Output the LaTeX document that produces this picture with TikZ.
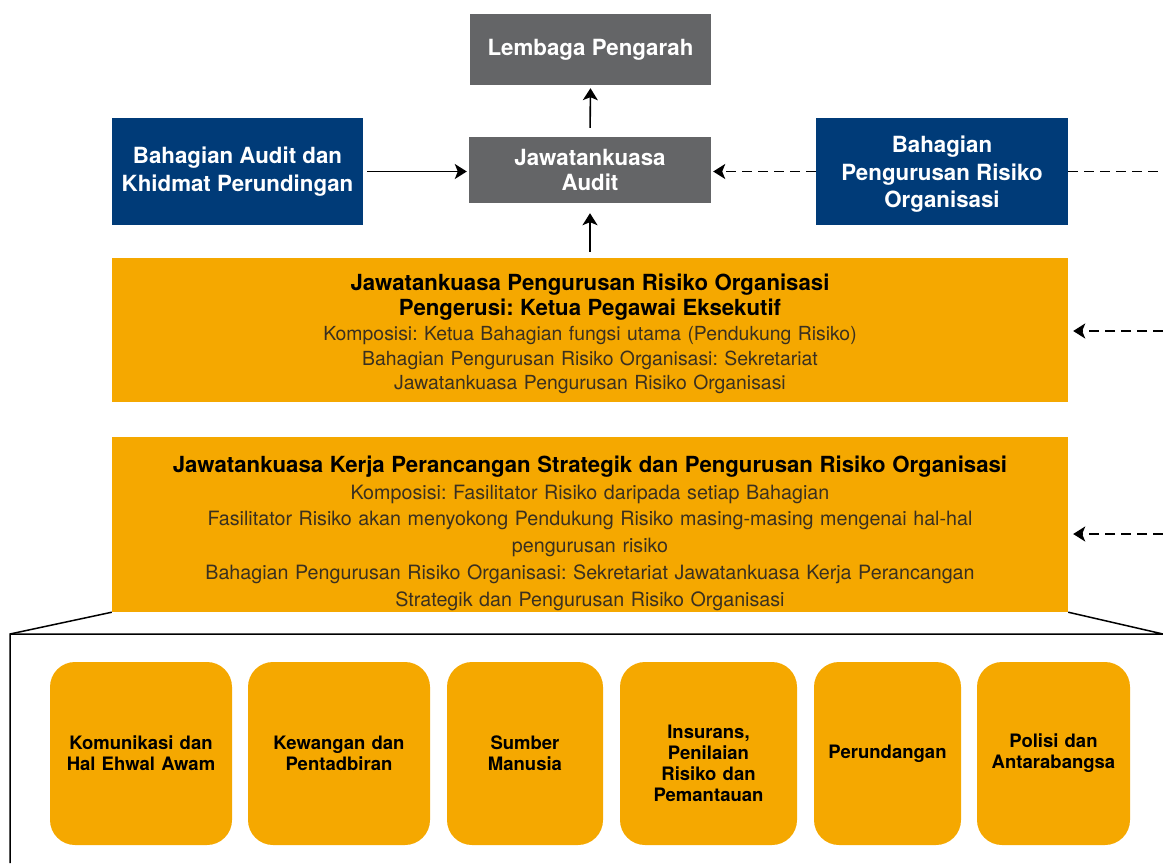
\documentclass[tikz,border=0pt]{standalone}
\usepackage{fontspec}
\setmainfont{TeX Gyre Heros}
\usetikzlibrary{arrows.meta}
\definecolor{kelabu}{HTML}{646567}
\definecolor{biru}{HTML}{003B78}
\definecolor{jingga}{HTML}{F5A800}
\definecolor{teksredup}{HTML}{3A3020}
\frenchspacing
\tikzset{
	kotakkelabu/.style={fill=kelabu,text=white,font=\bfseries\fontsize{22.3}{25}\selectfont,align=center,inner sep=0pt},
	kotakbiru/.style={fill=biru,text=white,font=\bfseries\fontsize{22.3}{27.5}\selectfont,align=center,inner sep=0pt},
	kotakjingga/.style={fill=jingga,text=black,align=center,inner sep=0pt,text width=950},
	kotakbawah/.style={fill=jingga,text=black,font=\bfseries\fontsize{18.5}{21}\selectfont,align=center,inner sep=0pt,rounded corners=25,minimum height=183},
	panah/.style={line width=1.6,-{Stealth[length=12,width=15,inset=3]}},
	putus/.style={line width=1.6,dash pattern=on 10 off 6}
}
\newcommand{\tajuk}[1]{{\bfseries\fontsize{22.2}{25}\selectfont #1}}
\newcommand{\redup}[1]{{\color{teksredup}#1}}

\begin{document}
\begin{tikzpicture}[x=1pt,y=-1pt]
	\useasboundingbox (0,0) rectangle (1163,863);
	%top
	\node[kotakkelabu,minimum width=241,minimum height=71] (lp) at (590.5,49.5) {Lembaga Pengarah};
	\node[kotakkelabu,minimum width=242,minimum height=66] (ja) at (590,170) {Jawatankuasa\\Audit};
	\node[kotakbiru,minimum width=251,minimum height=107] (bakp) at (237.5,171.5) {Bahagian Audit dan\\Khidmat Perundingan};
	\node[kotakbiru,minimum width=252,minimum height=107] (bpro) at (942,171.5) {\rule{0pt}{22pt}Bahagian\\Pengurusan Risiko\\Organisasi};
	
	%jawatankuasa
	\node[kotakjingga,minimum width=956,minimum height=144,font=\fontsize{19.4}{24.8}\selectfont] (jpro) at (590,330) {\tajuk{\rule{0pt}{25pt}Jawatankuasa Pengurusan Risiko Organisasi\\Pengerusi: Ketua Pegawai Eksekutif}\\
		\redup{Komposisi: Ketua Bahagian fungsi utama (Pendukung Risiko)\\Bahagian Pengurusan Risiko Organisasi: Sekretariat\\Jawatankuasa Pengurusan Risiko Organisasi}};
	\node[kotakjingga,minimum width=956,minimum height=175,font=\fontsize{19.7}{26.8}\selectfont] (jkps) at (590,524.5) {\tajuk{\rule{0pt}{34pt}Jawatankuasa Kerja Perancangan Strategik dan Pengurusan Risiko Organisasi}\\
		\redup{Komposisi: Fasilitator Risiko daripada setiap Bahagian\\Fasilitator Risiko akan menyokong Pendukung Risiko masing-masing mengenai hal-hal\\pengurusan risiko\\Bahagian Pengurusan Risiko Organisasi: Sekretariat Jawatankuasa Kerja Perancangan\\Strategik dan Pengurusan Risiko Organisasi}};
	
	%bahagian
	\foreach \kiri/\kanan/\nama/\teks in {50/232/kom/{Komunikasi dan\\Hal Ehwal Awam},248/430/kew/{Kewangan dan\\Pentadbiran},447/603/sm/{Sumber\\Manusia},620/797/ins/{\rule{0pt}{34pt}Insurans,\\Penilaian\\Risiko dan\\Pemantauan},814/961/per/{Perundangan},977/1130/pol/{Polisi dan\\Antarabangsa}}{
		\node[kotakbawah,minimum width={\kanan-\kiri},text width={\kanan-\kiri-6}] (\nama) at ({(\kiri+\kanan)/2},753.5) {\teks};
	}
	
	%bingkai
	\coordinate (bk1) at (10,634);
	\coordinate (bk2) at (1163,634);
	\coordinate (bk3) at (10,863);
	\draw[line width=1.5] (jkps.south west) -- (bk1) -- (bk3);
	\draw[line width=1.5] (bk1) -- (bk2) -- (jkps.south east);
	
	%anak panah
	\draw[panah,shorten <=9,shorten >=3] (ja.north) -- (lp.south);
	\draw[panah,shorten <=6,shorten >=10] (jpro.north) -- (ja.south);
	\draw[panah,shorten <=4,shorten >=2] (bakp.east) -- (bakp.east -| ja.west);
	\draw[putus] (bpro.east) -- ++(95,0) coordinate (tepi1);
	\draw[putus,-{Stealth[length=12,width=15,inset=3]},shorten >=2] (bpro.west) -- (bpro.west -| ja.east);
	\coordinate (tepi2) at (1163,331);
	\coordinate (tepi3) at (1163,534);
	\draw[putus,-{Stealth[length=12,width=15,inset=3]},shorten >=5] (tepi2) -- (tepi2 -| jpro.east);
	\draw[putus,-{Stealth[length=12,width=15,inset=3]},shorten >=5] (tepi3) -- (tepi3 -| jkps.east);
\end{tikzpicture}
\end{document}
